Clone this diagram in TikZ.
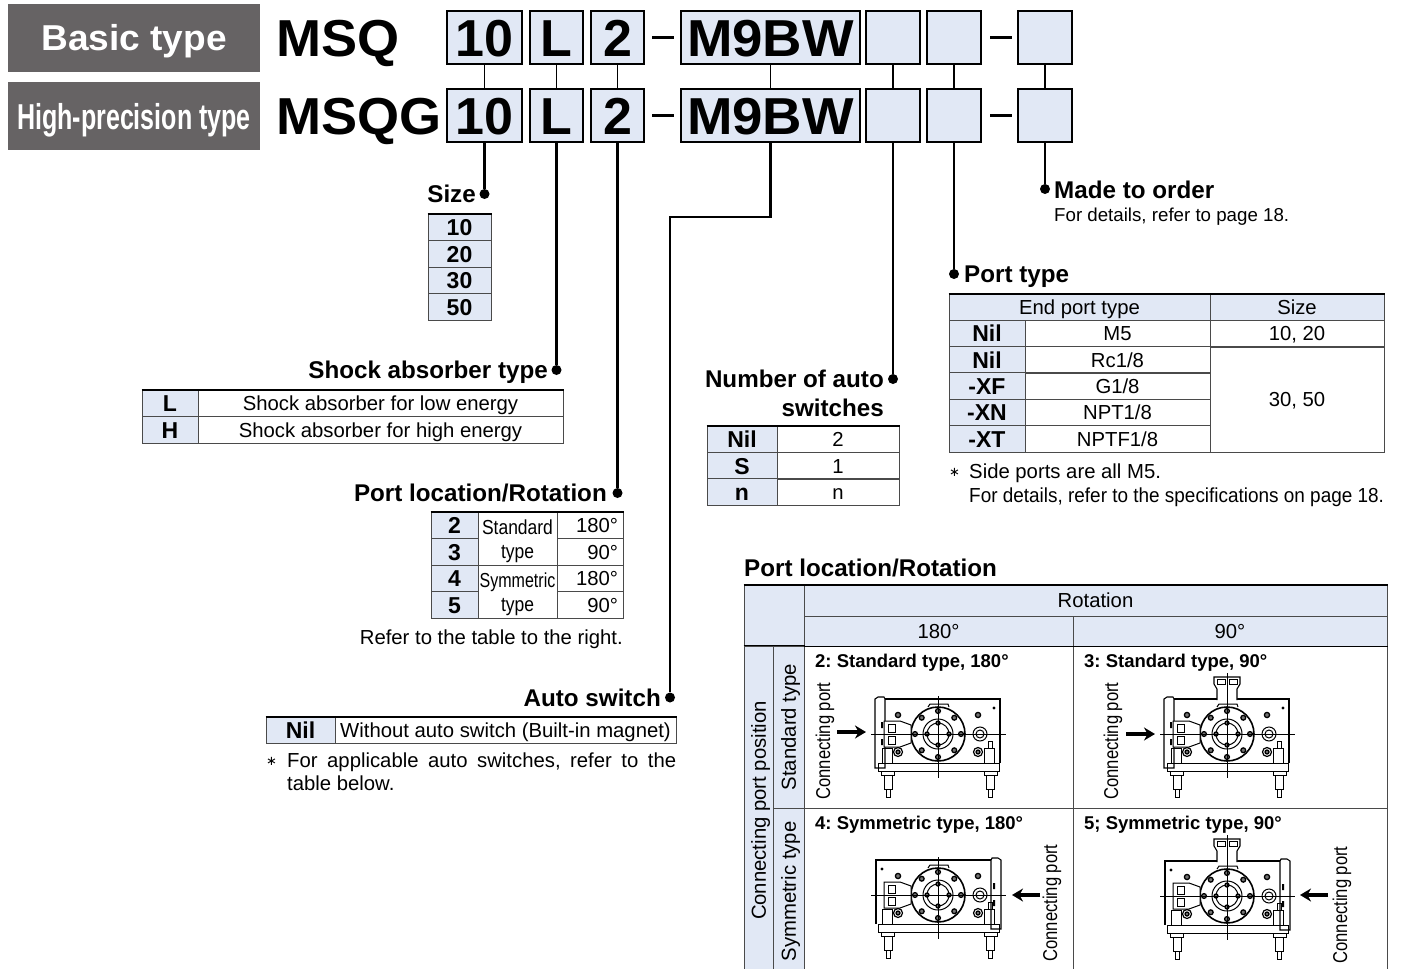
\documentclass[tikz,border=0pt]{standalone}
\usepackage{fontspec}
\setmainfont{Liberation Sans}
\newfontfamily\symfont{DejaVu Sans}
\usetikzlibrary{arrows.meta,positioning}
\newcommand{\fsz}[1]{\fontsize{#1}{#1}\selectfont}
\definecolor{headblue}{HTML}{E1E8F5}
\definecolor{banner}{HTML}{666364}
\definecolor{rule}{HTML}{4A4A4A}
\tikzset{
  bolt/.style={draw=black, line width=1.3pt, fill=black!55},
  pics/rotarybody/.style={code={
    \draw[line width=1pt] (-60,29) rectangle (61,37);
    \draw[line width=1pt] (-57,37) rectangle (-44,41) (-54,41) rectangle (-46,55) (-52,55) rectangle (-48,63);
    \draw[line width=1pt] (46,37) rectangle (59,41) (48,41) rectangle (56,55) (50,55) rectangle (54,63);
    \draw[line width=1pt] (-56,14) rectangle (-46,29) (46,14) rectangle (56,29);
    \draw[line width=1pt] (50,14) -- (50,7) -- (54,7) -- (54,14);
    \draw[line width=1.6pt, fill=white] (0,0) circle (27);
    \draw[line width=1pt] (0,0) circle (15) circle (11);
    \draw[line width=1pt] (-10,-27) -- (-8,-30) -- (10,-30) -- (11,-27);
    \foreach \a in {0,45,...,315} \draw[bolt] (\a:23) circle (2.4);
    \foreach \a in {0,90,180,270} \draw[bolt] (\a:11) circle (2);
    \draw[line width=1pt, fill=white] (-54,-13) -- (-38,-13) -- (-27,-9) -- (-27,9) -- (-38,13) -- (-54,13) -- cycle;
    \draw[line width=.8pt] (-50,-10) rectangle (-43,-2) (-50,2) rectangle (-43,10);
    \draw[bolt] (-40,-19) circle (2.6) (40,-19) circle (2.6);
    \draw[line width=1.2pt, fill=white] (-40,18) circle (4.5) (40,18) circle (4.5);
    \draw[bolt] (-40,18) circle (2) (40,18) circle (2);
    \draw[line width=1pt] (42,0) circle (7) circle (4);
    \draw[line width=.6pt] (-67,0) -- (68,0) (0,-38) -- (0,44);
  }},
  pics/rotarybar/.style={code={
    \begin{scope}[xscale=#1]
    \draw[line width=1.1pt] (-53,-35) -- (62,-35) -- (62,29);
    \draw[line width=1.1pt] (-63,-35) -- (-60,-37) -- (-54,-37) -- (-53,-35) -- (-53,34) -- (-63,34) -- cycle;
    \fill (-57,-12) rectangle (-55,-6) (-57,5) rectangle (-55,11);
    \fill (56,-26) circle (1.6);
    \end{scope}
  }},
  pics/rotaryflange/.style={code={
    \draw[line width=1.1pt, fill=white] (-10,-34) -- (-10,-45) -- (-13,-50) -- (-13,-57) -- (13,-57) -- (13,-50) -- (10,-45) -- (10,-34);
    \draw[line width=.8pt] (-10,-55) rectangle (-2,-50) (2,-55) rectangle (10,-50);
    \draw[line width=.6pt] (0,-61) -- (0,-30);
  }},
}
\begin{document}
\frenchspacing
\begin{tikzpicture}[x=1pt, y=-1pt,
  every node/.style={inner sep=0pt, font=\fsz{20.3}, text height=14.5pt, text depth=0pt},
  typebox/.style={fill=banner, text=white, font=\fsz{36}\bfseries, text height=26pt, minimum width=252, minimum height=68},
  model/.style={anchor=base west, font=\fsz{52}\bfseries, text height=37pt},
  codebox/.style={draw=black, line width=1.6pt, fill=headblue, font=\fsz{52}\bfseries, text height=37pt, minimum height=53},
  dashbar/.style={fill=black, text height=0pt, minimum width=22, minimum height=3},
  dotmark/.style={circle, fill=black, text height=0pt, minimum size=10},
  link/.style={line width=1.5pt},
  leader/.style={line width=2.2pt},
  title/.style={font=\fsz{24.2}\bfseries, text height=17pt},
  head/.style 2 args={draw=rule, line width=1pt, fill=headblue, font=\fsz{23}\bfseries, text height=16.5pt, minimum width=#1, minimum height=#2},
  cell/.style 2 args={draw=rule, line width=1pt, minimum width=#1, minimum height=#2},
  band/.style 2 args={draw=rule, line width=1pt, fill=headblue, minimum width=#1, minimum height=#2},
  toprule/.style={line width=2pt, black},
  note/.style={anchor=west},
  star/.style={anchor=west, font=\fsz{13}\symfont, text height=9pt},
  subhead/.style={anchor=west, font=\fsz{18.5}\bfseries, text height=13pt},
  portlabel/.style={rotate=90, font=\fsz{20}, text height=14.3pt},
  portarrow/.style={-{Stealth[length=11pt,width=13pt]}, line width=4pt},
]
\useasboundingbox (0,0) rectangle (1401,969);

% ordering code
\node[typebox] (basic) at (134,37.5) {\scalebox{1.03}[1]{Basic type}};
\node[typebox] (precise) at (134,116) {\scalebox{.695}[1]{High-precision type}};
\node[model] (msq) at (276,56) {\scalebox{1.04}[1]{MSQ}};
\node[model] (msqg) at (276,134) {\scalebox{1.04}[1]{MSQG}};
\foreach \row/\ypos in {a/37.5,b/115.5} {
  \node[codebox, minimum width=75] (size\row) at (484.5,\ypos) {10};
  \node[codebox, minimum width=53] (shock\row) at (556.5,\ypos) {L};
  \node[codebox, minimum width=53] (loc\row) at (617.5,\ypos) {2};
  \node[dashbar] (dash\row) at (663,\ypos) {};
  \node[codebox, minimum width=179] (switch\row) at (770.5,\ypos) {\scalebox{1.05}[1]{M9BW}};
  \node[codebox, minimum width=54] (num\row) at (893,\ypos) {};
  \node[codebox, minimum width=54] (port\row) at (954,\ypos) {};
  \node[dashbar] (gap\row) at (1001,\ypos) {};
  \node[codebox, minimum width=54] (order\row) at (1045,\ypos) {};
}
\foreach \item in {size,shock,loc,switch,num,port,order}
  \draw[link] (\item a) -- (\item b);

% leaders
\node[dotmark] (dsize) at (484.5,194) {};
\node[dotmark] (dshock) at (556.5,370) {};
\node[dotmark] (dloc) at (617.5,493) {};
\node[dotmark] (dswitch) at (670,697.5) {};
\node[dotmark] (dnum) at (893,379) {};
\node[dotmark] (dport) at (954,274) {};
\node[dotmark] (dorder) at (1045,189) {};
\coordinate (bend) at (670,217);
\draw[leader] (sizeb) -- (dsize);
\draw[leader] (shockb) -- (dshock);
\draw[leader] (locb) -- (dloc);
\draw[leader] (switchb.south) |- (bend) -- (dswitch);
\draw[leader] (numb) -- (dnum);
\draw[leader] (portb) -- (dport);
\draw[leader] (orderb) -- (dorder);

% size
\node[title, anchor=east] (tsize) at (476,194) {Size};
\node[head={63}{26.5}] (s10) at (459.5,227.25) {10};
\node[head={63}{26.5}] (s20) at (459.5,254) {20};
\node[head={63}{26.5}] (s30) at (459.5,280.5) {30};
\node[head={63}{26.5}] (s50) at (459.5,307) {50};
\draw[toprule] (s10.north west) -- (s10.north east);

% shock absorber
\node[title, anchor=east] (tshock) at (548,370) {Shock absorber type};
\node[head={56}{26.5}] (sl) at (170,403.5) {L};
\node[cell={365}{26.5}] (slt) at (380.5,403.5) {Shock absorber for low energy};
\node[head={56}{26.5}] (sh) at (170,430) {H};
\node[cell={365}{26.5}] (sht) at (380.5,430) {Shock absorber for high energy};
\draw[toprule] (sl.north west) -- (slt.north east);

% port location
\node[title, anchor=east] (tloc) at (607,493) {Port location/Rotation};
\node[head={47}{26.5}] (l2) at (454.5,525.5) {2};
\node[head={47}{26.5}] (l3) at (454.5,552) {3};
\node[head={47}{26.5}] (l4) at (454.5,578.5) {4};
\node[head={47}{26.5}] (l5) at (454.5,605) {5};
\node[cell={79}{53}] (lstd) at (517.5,538.5) {};
\node[cell={79}{53}] (lsym) at (517.5,591.5) {};
\node (lstda) at (517.5,527) {\scalebox{.86}[1]{Standard}};
\node (lstdb) at (517.5,551) {\scalebox{.86}[1]{type}};
\node (lsyma) at (517.5,580) {\scalebox{.79}[1]{Symmetric}};
\node (lsymb) at (517.5,604) {\scalebox{.86}[1]{type}};
\node[cell={66}{26.5}, text width=56, align=right] (la) at (590,525.5) {180°};
\node[cell={66}{26.5}, text width=56, align=right] (lb) at (590,552) {90°};
\node[cell={66}{26.5}, text width=56, align=right] (lc) at (590,578.5) {180°};
\node[cell={66}{26.5}, text width=56, align=right] (ld) at (590,605) {90°};
\draw[toprule] (l2.north west) -- (la.north east);
\node[anchor=east] (lnote) at (623,637) {Refer to the table to the right.};

% auto switch
\node[title, anchor=east] (tswitch) at (661,698) {Auto switch};
\node[head={69}{26}] (anil) at (300.5,730) {Nil};
\node[cell={341}{26}] (atxt) at (505.5,730) {Without auto switch (Built-in magnet)};
\draw[toprule] (anil.north west) -- (atxt.north east);
\node[star] (astar) at (266,761) {∗};
\node[note] (anote) at (287,760) {\makebox[389pt][s]{For applicable auto switches, refer to the}};
\node[note] (anote2) at (287,783) {table below.};

% number of switches
\node[title, anchor=east] (tnum) at (884,379) {Number of auto};
\node[title, anchor=east] (tnum2) at (884,408) {switches};
\node[head={70}{26.5}] (nnil) at (742,439.5) {Nil};
\node[cell={122}{26.5}] (n2) at (838,439.5) {2};
\node[head={70}{26.5}] (ns) at (742,466) {S};
\node[cell={122}{26.5}] (n1) at (838,466) {1};
\node[head={70}{26.5}] (nn) at (742,492) {n};
\node[cell={122}{26.5}] (nx) at (838,492) {n};
\draw[toprule] (nnil.north west) -- (n2.north east);

% port type
\node[title, anchor=west] (tport) at (964,274) {Port type};
\node[band={261}{26}] (pend) at (1079.5,307) {End port type};
\node[band={174}{26}] (psize) at (1297,307) {Size};
\node[head={76}{26.5}] (p1) at (987,333.5) {Nil};
\node[cell={185}{26.5}] (p1t) at (1117.5,333.5) {M5};
\node[head={76}{26.5}] (p2) at (987,360) {Nil};
\node[cell={185}{26.5}] (p2t) at (1117.5,360) {Rc1/8};
\node[head={76}{26.5}] (p3) at (987,386) {-XF};
\node[cell={185}{26.5}] (p3t) at (1117.5,386) {G1/8};
\node[head={76}{26.5}] (p4) at (987,412.5) {-XN};
\node[cell={185}{26.5}] (p4t) at (1117.5,412.5) {NPT1/8};
\node[head={76}{26.5}] (p5) at (987,439) {-XT};
\node[cell={185}{26.5}] (p5t) at (1117.5,439) {NPTF1/8};
\node[cell={174}{26.5}] (ps1) at (1297,333.5) {10, 20};
\node[cell={174}{105}] (ps2) at (1297,399.5) {30, 50};
\draw[toprule] (pend.north west) -- (psize.north east);
\node[star] (pstar) at (949,472) {∗};
\node[note] (pnote) at (969,471) {Side ports are all M5.};
\node[note] (pnote2) at (969,495) {\scalebox{.933}[1]{For details, refer to the specifications on page 18.}};

% made to order
\node[title, anchor=west] (torder) at (1054,190) {Made to order};
\node[anchor=west, font=\fsz{18.7}, text height=13.4pt] (onote) at (1054,215) {For details, refer to page 18.};

% rotation table
\node[title, anchor=west] (trot) at (744,568) {Port location/Rotation};
\node[band={60}{61}] (corner) at (774,615.5) {};
\node[band={583}{31}] (rrot) at (1095.5,600.5) {Rotation};
\node[band={269}{30}] (r180) at (938.5,631) {180°};
\node[band={314}{30}] (r90) at (1230,631) {90°};
\node[band={329}{29}, rotate=90] (rpos) at (758.5,810.5) {Connecting port position};
\node[band={162}{31}, rotate=90] (rstd) at (788.5,727) {Standard type};
\node[band={167}{31}, rotate=90] (rsym) at (788.5,891.5) {Symmetric type};
\node[cell={269}{162}] (c2) at (938.5,727) {};
\node[cell={314}{162}] (c3) at (1230,727) {};
\node[cell={269}{167}] (c4) at (938.5,891.5) {};
\node[cell={314}{167}] (c5) at (1230,891.5) {};
\draw[toprule] (corner.north west) -- (rrot.north east);
\draw[line width=1.4pt] (r180.south west) -- (r90.south east);
\draw[line width=1.4pt] (rpos.north east) -- (rstd.south east);
\node[subhead] (h2) at (815,661) {2: Standard type, 180°};
\node[subhead] (h3) at (1084,661) {3: Standard type, 90°};
\node[subhead] (h4) at (815,823) {4: Symmetric type, 180°};
\node[subhead] (h5) at (1084,823) {5; Symmetric type, 90°};

% actuators
\pic at (938,734) {rotarybar=1};
\pic at (938,734) {rotarybody};
\pic at (1227,734) {rotarybar=1};
\pic at (1227,734) {rotarybody};
\pic at (1227,734) {rotaryflange};
\pic at (938,895) {rotarybar=-1};
\pic at (938,895) {rotarybody};
\pic at (1227,896) {rotarybar=-1};
\pic at (1227,896) {rotarybody};
\pic at (1227,896) {rotaryflange};

% connecting ports
\node[portlabel] (q2) at (823,741) {\scalebox{.83}[1]{Connecting port}};
\node[portlabel] (q3) at (1111,741) {\scalebox{.83}[1]{Connecting port}};
\node[portlabel] (q4) at (1050,903) {\scalebox{.83}[1]{Connecting port}};
\node[portlabel] (q5) at (1340,905) {\scalebox{.83}[1]{Connecting port}};
\coordinate (a2s) at (837,732); \coordinate (a2e) at (866,732);
\coordinate (a3s) at (1126,734); \coordinate (a3e) at (1155,734);
\coordinate (a4s) at (1040,895); \coordinate (a4e) at (1012,895);
\coordinate (a5s) at (1328,895); \coordinate (a5e) at (1300,895);
\draw[portarrow] (a2s) -- (a2e);
\draw[portarrow] (a3s) -- (a3e);
\draw[portarrow] (a4s) -- (a4e);
\draw[portarrow] (a5s) -- (a5e);
\end{tikzpicture}
\end{document}
